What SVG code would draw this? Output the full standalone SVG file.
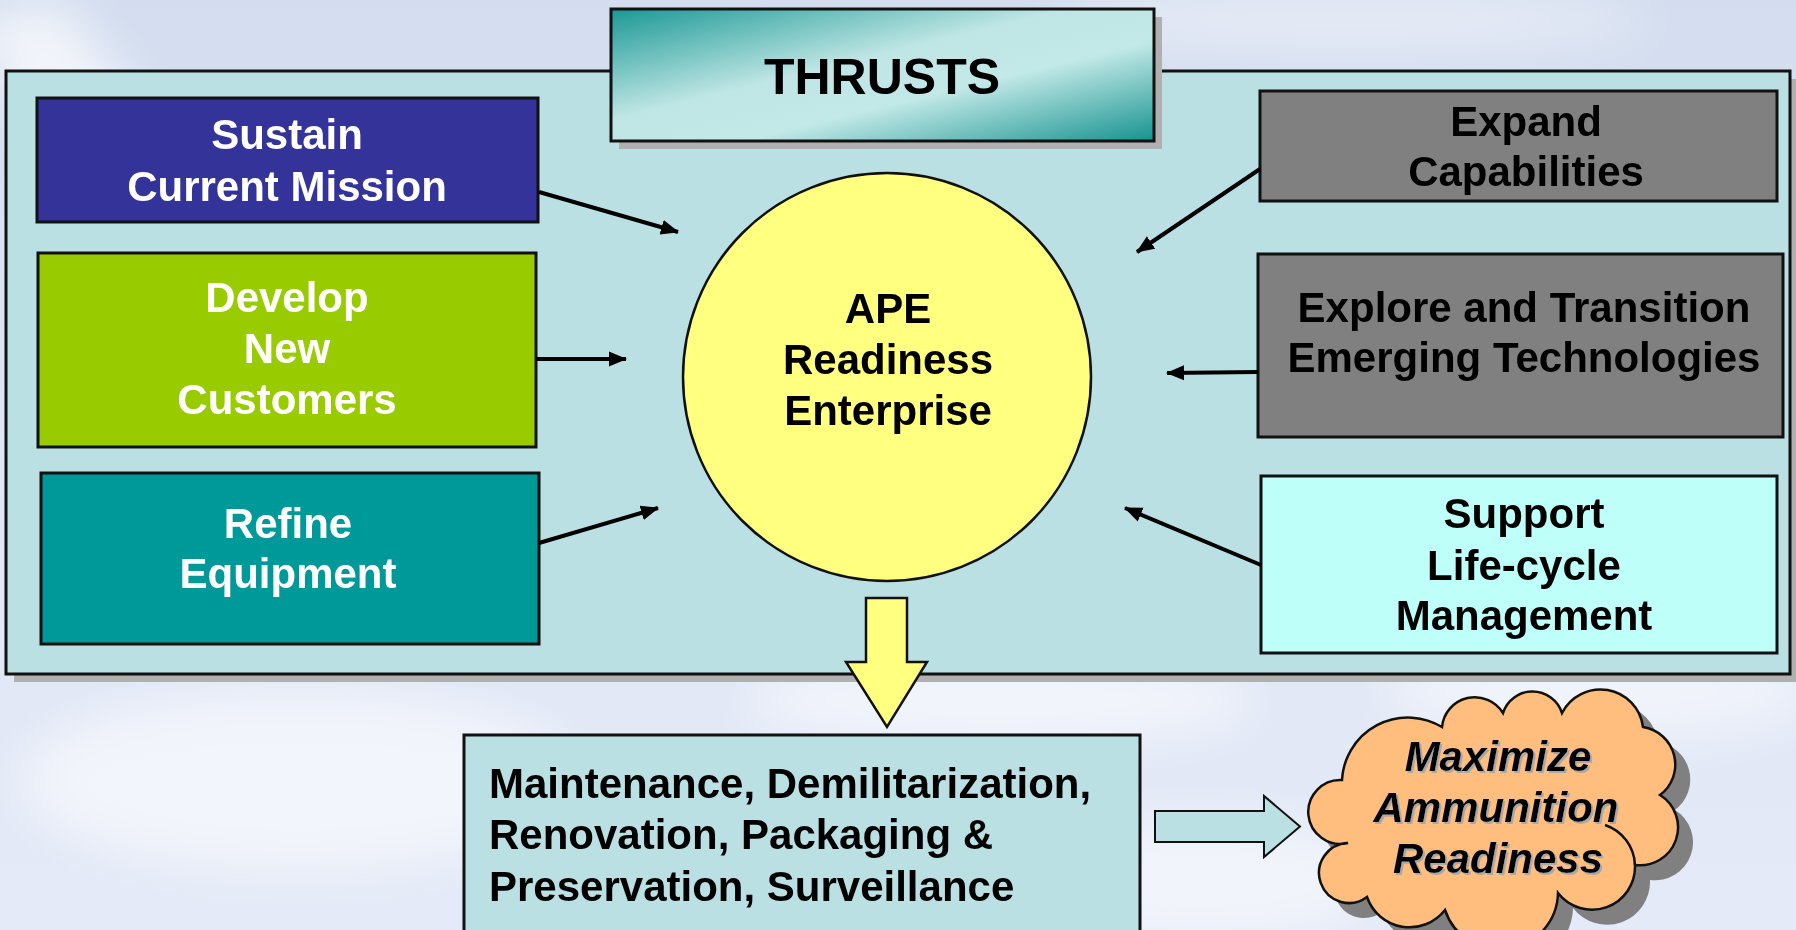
<svg xmlns="http://www.w3.org/2000/svg" width="1796" height="930" viewBox="0 0 1796 930">
  <defs>
    <linearGradient id="bg" x1="0" y1="0" x2="0" y2="1">
      <stop offset="0" stop-color="#d3ddef"/>
      <stop offset="0.5" stop-color="#dfe6f5"/>
      <stop offset="1" stop-color="#e4eaf7"/>
    </linearGradient>
    <linearGradient id="thrustGrad" x1="0" y1="0" x2="1" y2="1">
      <stop offset="0" stop-color="#1b9895"/>
      <stop offset="0.42" stop-color="#bfe6e4"/>
      <stop offset="0.62" stop-color="#c2e9e7"/>
      <stop offset="1" stop-color="#17938f"/>
    </linearGradient>
    <filter id="blur" x="-50%" y="-50%" width="200%" height="200%">
      <feGaussianBlur stdDeviation="25"/>
    </filter>
    <filter id="txtShadow" x="-10%" y="-10%" width="120%" height="130%">
      <feDropShadow dx="2" dy="2" stdDeviation="0" flood-color="#a8a8a8" flood-opacity="1"/>
    </filter>
    <marker id="arrow" markerUnits="userSpaceOnUse" markerWidth="18" markerHeight="16" viewBox="0 0 18 16" refX="17" refY="8" orient="auto">
      <path d="M0,0.5 L18,8 L0,15.5 Z" fill="#000"/>
    </marker>
    <style>
      .box { stroke: #111; stroke-width: 3; }
      .shadow { fill: #b0b0b0; }
      .lbl { font-family: "Liberation Sans", Arial, sans-serif; font-weight: bold; font-size: 42px; text-anchor: middle; }
      .white { fill: #ffffff; }
      .black { fill: #000000; }
      .conn { stroke: #000; stroke-width: 4; fill: none; marker-end: url(#arrow); }
    </style>
  </defs>

  <!-- background -->
  <g id="background">
    <rect x="0" y="0" width="1796" height="930" fill="url(#bg)"/>
    <g filter="url(#blur)" fill="#ffffff">
      <path d="M-40,20 L60,0 L180,160 L90,200 Z" opacity="0.7"/>
      <ellipse cx="300" cy="780" rx="280" ry="90" opacity="0.55"/>
      <ellipse cx="1000" cy="700" rx="260" ry="40" opacity="0.6"/>
      <ellipse cx="1600" cy="690" rx="220" ry="50" opacity="0.5"/>
      <ellipse cx="1200" cy="880" rx="180" ry="60" opacity="0.5"/>
      <ellipse cx="1350" cy="20" rx="300" ry="30" opacity="0.45"/>
    </g>
  </g>

  <!-- outer panel -->
  <g id="panel">
    <rect x="14" y="79" width="1784" height="603" class="shadow"/>
    <rect x="6" y="71" width="1784" height="603" fill="#bbe0e3" class="box"/>
  </g>

  <!-- title -->
  <g id="thrusts">
    <rect x="619" y="17" width="543" height="132" class="shadow"/>
    <rect x="611" y="9" width="543" height="132" fill="url(#thrustGrad)" class="box"/>
    <text x="882" y="94" class="lbl black" style="font-size:50px">THRUSTS</text>
  </g>

  <!-- left nodes -->
  <g id="sustain">
    <rect x="37" y="98" width="501" height="124" fill="#333399" class="box"/>
    <text class="lbl white"><tspan x="287" y="149">Sustain</tspan><tspan x="287" y="201">Current Mission</tspan></text>
  </g>
  <g id="develop">
    <rect x="38" y="253" width="498" height="194" fill="#99cc00" class="box"/>
    <text class="lbl white"><tspan x="287" y="312">Develop</tspan><tspan x="287" y="363">New</tspan><tspan x="287" y="414">Customers</tspan></text>
  </g>
  <g id="refine">
    <rect x="41" y="473" width="498" height="171" fill="#009999" class="box"/>
    <text class="lbl white"><tspan x="288" y="538">Refine</tspan><tspan x="288" y="588">Equipment</tspan></text>
  </g>

  <!-- center -->
  <g id="ape">
    <circle cx="887" cy="377" r="204" fill="#ffff80" stroke="#111" stroke-width="2.5"/>
    <text class="lbl black"><tspan x="888" y="323">APE</tspan><tspan x="888" y="374">Readiness</tspan><tspan x="888" y="425">Enterprise</tspan></text>
  </g>

  <!-- right nodes -->
  <g id="expand">
    <rect x="1260" y="91" width="517" height="110" fill="#808080" class="box"/>
    <text class="lbl black"><tspan x="1526" y="136">Expand</tspan><tspan x="1526" y="186">Capabilities</tspan></text>
  </g>
  <g id="explore">
    <rect x="1258" y="254" width="525" height="183" fill="#808080" class="box"/>
    <text class="lbl black"><tspan x="1524" y="322">Explore and Transition</tspan><tspan x="1524" y="372">Emerging Technologies</tspan></text>
  </g>
  <g id="support">
    <rect x="1261" y="476" width="516" height="177" fill="#bffffa" class="box"/>
    <text class="lbl black"><tspan x="1524" y="528">Support</tspan><tspan x="1524" y="580">Life-cycle</tspan><tspan x="1524" y="630">Management</tspan></text>
  </g>

  <!-- connectors -->
  <g id="connectors">
    <line x1="539" y1="192" x2="678" y2="232" class="conn"/>
    <line x1="536" y1="359" x2="626" y2="359" class="conn"/>
    <line x1="539" y1="543" x2="658" y2="508" class="conn"/>
    <line x1="1260" y1="169" x2="1137" y2="252" class="conn"/>
    <line x1="1258" y1="372" x2="1167" y2="373" class="conn"/>
    <line x1="1261" y1="565" x2="1125" y2="508" class="conn"/>
    <path id="downArrow" d="M866,598 H907 V662 H927 L887,727 L846,662 H866 Z" fill="#ffff80" stroke="#111" stroke-width="2.5"/>
    <path id="rightArrow" d="M1155,811 H1264 V796 L1300,826.5 L1264,857 V842 H1155 Z" fill="#bbe0e3" stroke="#111" stroke-width="2"/>
  </g>

  <!-- result box -->
  <g id="activities">
    <rect x="464" y="735" width="676" height="215" fill="#bbe0e3" class="box"/>
    <text class="lbl black" style="text-anchor:start"><tspan x="489" y="798">Maintenance, Demilitarization,</tspan><tspan x="489" y="849">Renovation, Packaging &amp;</tspan><tspan x="489" y="901">Preservation, Surveillance</tspan></text>
  </g>

  <!-- cloud -->
  <g id="readiness">
    <path transform="translate(15,15)" fill="#808080" d="M1342,780 A66,66 0 0 1 1442,727 A33,33 0 0 1 1503,713 A31,31 0 0 1 1562,713 A43,43 0 0 1 1643,727 A38,38 0 0 1 1660,795 A38,38 0 0 1 1635,865 A43,43 0 0 1 1558,893 A58,58 0 0 1 1445,910 A45,45 0 0 1 1367,897 A30,30 0 1 1 1348,843 A32,32 0 1 1 1342,780 Z"/>
    <path fill="#ffbe7d" stroke="#111" stroke-width="2.5" d="M1342,780 A66,66 0 0 1 1442,727 A33,33 0 0 1 1503,713 A31,31 0 0 1 1562,713 A43,43 0 0 1 1643,727 A38,38 0 0 1 1660,795 A38,38 0 0 1 1635,865 A43,43 0 0 1 1558,893 A58,58 0 0 1 1445,910 A45,45 0 0 1 1367,897 A30,30 0 1 1 1348,843 A32,32 0 1 1 1342,780 Z"/>
    <path d="M1605,825 A44,44 0 0 1 1635,865" fill="none" stroke="#111" stroke-width="2.5"/>
    <text class="lbl black" style="font-style:italic" filter="url(#txtShadow)"><tspan x="1498" y="771">Maximize</tspan><tspan x="1496" y="822">Ammunition</tspan><tspan x="1498" y="873">Readiness</tspan></text>
  </g>
</svg>
